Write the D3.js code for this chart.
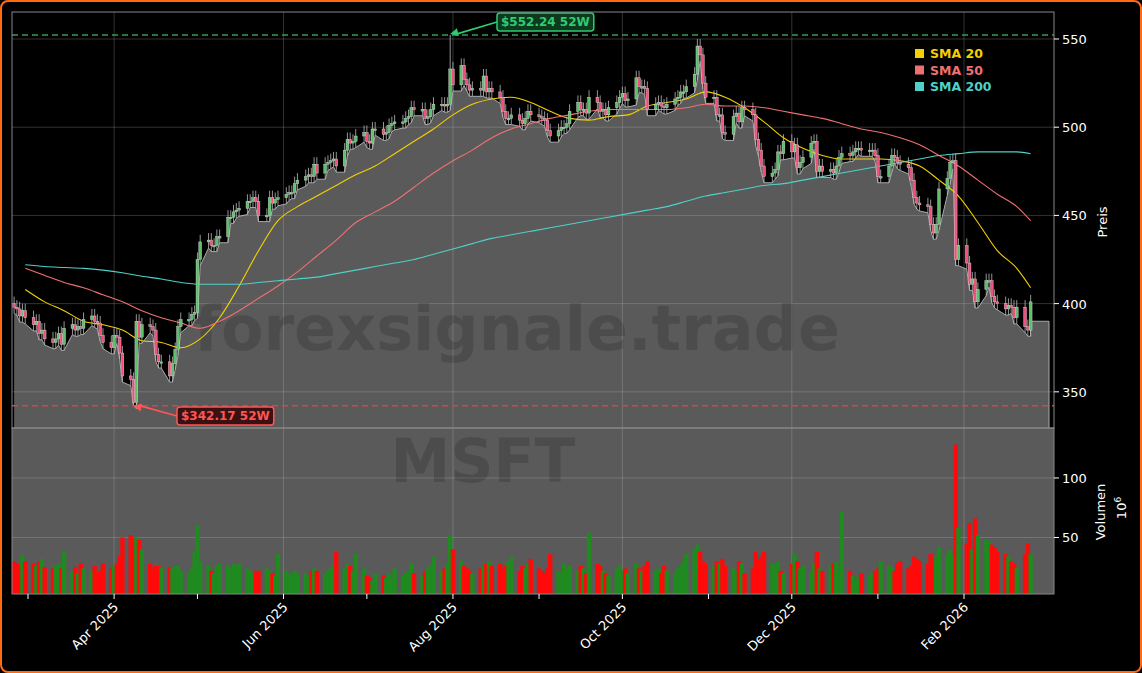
<!DOCTYPE html>
<html><head><meta charset="utf-8">
<script src="https://cdn.jsdelivr.net/npm/d3@7"></script>
<style>body{margin:0;background:#000}svg{display:block;font-family:"DejaVu Sans",sans-serif}</style>
</head><body><svg id="c" width="1142" height="673"></svg>
<script>
const startMonday = "2025-02-24";
const closesByWeek = [
[398,397,393,396,392],[388,390,383,385,380],[378,380,383,377,386],[388,385,387,386,391],
[393,390,389,382,378],[375,382,381,372,359],[357,344,390,381,388],[387,385,371,367,367],
[359,366,374,387,391],[391,394,395,425,435],[436,433,433,438,438],[449,449,452,453,454],
[458,458,460,458,450],[450,460,457,459,460],[462,463,463,468,470],[472,473,472,479,474],
[479,480,481,482,478],[487,493,491,492,495],[497,492,491,499,499],[496,497,501,502,503],
[503,505,506,511,510],[510,505,506,510,513],[513,512,513,533,524],[535,527,524,521,522],
[521,529,520,522,520],[517,509,505,505,507],[504,502,505,509,507],[506,505,504,498,495],
[498,500,500,502,509],[514,510,510,508,517],[514,509,510,507,511],[514,517,519,515,516],
[528,523,523,522,510],[513,514,512,511,513],[516,517,520,520,523],[530,546,541,525,517],
[517,507,507,497,496],[506,508,503,511,510],[507,493,487,478,472],[474,476,486,485,492],
[486,490,477,480,483],[491,492,475,478,475],[476,474,478,483,485],[484,486,488,488,487],
[487,487,484,472,472],[478,484,483,480,479],[477,470,460,457,456],[455,445,440,445,465],
[471,480,481,425,433],[423,411,414,401,408],[413,413,404,401,400],[397,399,398,392,398],
[387,385,401]];
const volumeByWeek = [
[30,28,25,35,30],[28,26,30,32,25],[24,26,28,24,38],[22,25,20,28,24],[22,26,20,22,28],
[24,26,28,35,50],[52,50,50,48,40],[28,24,26,26,25],[25,24,26,26,22],[20,24,38,60,30],
[26,22,20,26,28],[26,24,28,26,28],[24,22,20,22,22],[24,22,20,18,36],[22,20,18,22,20],
[20,18,22,24,22],[20,22,24,26,38],[24,28,26,22,36],[24,18,16,14,20],[18,16,20,16,24],
[18,20,22,28,20],[18,22,24,26,34],[22,24,28,52,40],[30,26,24,22,20],[24,26,28,30,26],
[28,24,26,30,34],[22,26,24,28,32],[24,22,20,24,36],[22,20,28,24,26],[22,26,24,20,54],
[28,26,22,20,18],[24,26,22,24,20],[28,24,22,26,30],[22,24,20,26,22],[20,24,26,30,36],
[40,44,38,30,28],[26,30,28,32,26],[24,22,30,28,20],[24,38,32,34,38],[28,26,30,22,20],
[28,36,30,24,26],[22,28,38,24,22],[26,28,30,24,72],[22,18,14,16,20],[18,20,22,24,30],
[26,24,22,28,30],[24,26,34,32,30],[28,36,32,34,42],[36,40,35,128,58],[45,62,40,66,52],
[48,46,44,42,38],[36,34,30,28,24],[36,45,36]];
// weekly samples (Fridays) of moving averages
const sma20 = [408,401,396,390,388,385,379,378,375,380,392,410,430,447,455,461,467,473,478,485,492,499,507,513,516,517,514,509,505,504,506,507,512,514,516,520,517,511,503,494,488,484,482,482,482,481,478,470,461,446,430,420,409];
const sma50 = [420,416,412,409,405,401,396,392,389,386,390,396,403,410,418,427,436,446,452,458,466,474,481,487,494,499,502,505,507,509,510,510,510,510,511,513,512,512,511,509,507,505,502,499,497,494,490,484,478,470,462,455,447];
const sma200 = [422,421,420.5,420,419,417.5,415.5,414,412,411,411,411,412,413,414,415,417,419,421,423,425,428,431,434,437,439,441,443,445,447,449,451,453,455,458,461,463,465,467,468,470,472,474,476,478,480,482,484,485,486,486,486,485];
const priceTicks = [350,400,450,500,550];
const volTicks = [50,100];
const low52 = 342.17, high52 = 552.24;
const legendNames = ["SMA 20","SMA 50","SMA 200"];

const parse = d3.timeParse("%Y-%m-%d");
const mon = parse(startMonday);
const data = [];
closesByWeek.forEach((wk,wi)=>wk.forEach((c,di)=>{
  data.push({date:d3.timeDay.offset(mon, wi*7+di), close:c, vol:volumeByWeek[wi][di]});
}));
data.forEach((d,i)=>{d.open = i? data[i-1].close : d.close+2;
  d.high=Math.max(d.open,d.close)+4; d.low=Math.min(d.open,d.close)-3.5;});
data[data.findIndex(d=>d.close===344)].low = low52;
data[data.findIndex(d=>d.close===533)].high = high52;
data[data.findIndex(d=>d.close===546)].high = 550;
const fridays = closesByWeek.map((wk,wi)=>d3.timeDay.offset(mon, wi*7+Math.min(4,wk.length-1)));

const svg = d3.select("#c");
const L=12,R=1054,T=12,M=428,B=594;
svg.append("rect").attr("x",1).attr("y",1).attr("width",1140).attr("height",671).attr("rx",7)
  .attr("fill","#000").attr("stroke","#ff6a13").attr("stroke-width",2);
const x = d3.scaleTime().domain([new Date(2025,2,1),new Date(2026,1,1)]).range([28,964]);
const y = d3.scaleLinear().domain([329.5,565.3]).range([M,T]);
const yv = d3.scaleLinear().domain([2.5,142]).range([B,M]);

svg.append("rect").attr("x",L).attr("y",M).attr("width",R-L).attr("height",B-M).attr("fill","#5a5a5a");
const areaPts = data.concat([{date:x.invert(1030), close:390, low:390},{date:x.invert(1049), close:390, low:390}]);
svg.append("path").attr("fill","#5a5a5a")
  .attr("d",d3.area().x(d=>x(d.date)).y0(M).y1(d=>y(d.low))(areaPts));
svg.append("path").attr("fill","none").attr("stroke","#aaa").attr("stroke-width",1)
  .attr("d",d3.line().x(d=>x(d.date)).y(d=>y(d.low))(areaPts)+`L1049,${M}`);
const monthTicks = d3.timeMonth.range(new Date(2025,2,1),new Date(2026,2,1));
const g = svg.append("g").attr("stroke","rgba(200,200,200,0.25)").attr("stroke-width",1);
monthTicks.filter(d=>d.getMonth()%2===1).forEach(d=>{
  g.append("line").attr("x1",x(d)).attr("x2",x(d)).attr("y1",T).attr("y2",B);});
priceTicks.forEach(t=>g.append("line").attr("x1",L).attr("x2",R).attr("y1",y(t)).attr("y2",y(t)));
volTicks.forEach(t=>g.append("line").attr("x1",L).attr("x2",R).attr("y1",yv(t)).attr("y2",yv(t)));
svg.append("text").attr("x",517).attr("y",350).attr("text-anchor","middle").attr("font-size",62)
  .attr("font-weight","bold").attr("fill","rgba(0,0,0,0.15)").text("forexsignale.trade");
svg.append("text").attr("x",483).attr("y",482).attr("text-anchor","middle").attr("font-size",60)
  .attr("font-weight","bold").attr("fill","rgba(0,0,0,0.15)").text("MSFT");
svg.append("g").selectAll("rect").data(data).join("rect")
  .attr("x",d=>x(d.date)-2.2).attr("width",4.4).attr("y",d=>yv(d.vol)).attr("height",d=>B-yv(d.vol))
  .attr("fill",d=>d.close>=d.open?"#1f8a1f":"#ff0a0a");
const smaCols=["#f5d000","#f07070","#4fd0c8"];
[sma20,sma50,sma200].forEach((s,i)=>{
  svg.append("path").attr("fill","none").attr("stroke",smaCols[i]).attr("stroke-width",1.1)
   .attr("d",d3.line().curve(d3.curveMonotoneX).x((v,j)=>x(fridays[j])).y(v=>y(v))(s));
});
const cg = svg.append("g");
data.forEach(d=>{
  const up=d.close>=d.open, col=up?"#5cbf6a":"#f0507a";
  cg.append("line").attr("x1",x(d.date)).attr("x2",x(d.date)).attr("y1",y(d.high)).attr("y2",y(d.low))
    .attr("stroke","#bbb").attr("stroke-width",0.8);
  const top=y(Math.max(d.open,d.close)), h=Math.max(1.5,Math.abs(y(d.open)-y(d.close)));
  cg.append("rect").attr("x",x(d.date)-1.4).attr("width",2.8).attr("y",top).attr("height",h)
    .attr("fill",col).attr("stroke","#ddd").attr("stroke-width",0.4);
});
svg.append("line").attr("x1",L).attr("x2",R).attr("y1",y(high52)).attr("y2",y(high52))
  .attr("stroke","#3a9a55").attr("stroke-width",1.5).attr("stroke-dasharray","6,4");
svg.append("line").attr("x1",L).attr("x2",R).attr("y1",y(low52)).attr("y2",y(low52))
  .attr("stroke","#d04848").attr("stroke-width",1.5).attr("stroke-dasharray","6,4");
const hd=data.find(d=>d.high===high52), ld=data.find(d=>d.low===low52);
function label(px,py,bx,by,txt,col,bg){
  svg.append("line").attr("x1",bx).attr("y1",by).attr("x2",px+6).attr("y2",py).attr("stroke",col).attr("stroke-width",1.8);
  svg.append("path").attr("d",`M${px},${py} l8,-4 l0,8 z`).attr("fill",col)
    .attr("transform",`rotate(${Math.atan2(by-py,bx-px)*180/Math.PI},${px},${py})`);
  const t=svg.append("text").attr("x",bx+4).attr("y",by+4).attr("font-size",12).attr("font-weight","bold")
    .attr("fill",col).text(txt);
  const w=t.node().getComputedTextLength();
  svg.insert("rect","text:last-of-type").attr("x",bx).attr("y",by-9).attr("width",w+8).attr("height",18)
    .attr("rx",3).attr("fill",bg).attr("stroke",col).attr("stroke-width",1.5);
  t.raise();
}
label(x(hd.date),y(high52)-1,497,22,"$552.24 52W","#2ecc71","#0d3a1e");
label(x(ld.date),y(low52),177,416,"$342.17 52W","#ff5555","#3a1111");
svg.append("rect").attr("x",L).attr("y",T).attr("width",R-L).attr("height",M-T).attr("fill","none").attr("stroke","#888");
svg.append("rect").attr("x",L).attr("y",M).attr("width",R-L).attr("height",B-M).attr("fill","none").attr("stroke","#888");
const ax = svg.append("g").attr("fill","#fff").attr("font-size",13);
priceTicks.forEach(t=>{
  ax.append("line").attr("x1",R).attr("x2",R+5).attr("y1",y(t)).attr("y2",y(t)).attr("stroke","#fff");
  ax.append("text").attr("x",R+8).attr("y",y(t)+5).text(t);});
volTicks.forEach(t=>{
  ax.append("line").attr("x1",R).attr("x2",R+5).attr("y1",yv(t)).attr("y2",yv(t)).attr("stroke","#fff");
  ax.append("text").attr("x",R+8).attr("y",yv(t)+5).text(t);});
monthTicks.forEach(d=>{
  ax.append("line").attr("x1",x(d)).attr("x2",x(d)).attr("y1",B).attr("y2",B+5).attr("stroke","#fff");
  if(d.getMonth()%2===1) ax.append("text").attr("text-anchor","end")
    .attr("transform",`translate(${x(d)+5},${B+14}) rotate(-45)`).text(d3.timeFormat("%b %Y")(d));
});
ax.append("text").attr("transform","translate(1107,222) rotate(-90)").attr("text-anchor","middle").text("Preis");
ax.append("text").attr("transform","translate(1105,512) rotate(-90)").attr("text-anchor","middle").text("Volumen");
const e=ax.append("text").attr("transform","translate(1126,508) rotate(-90)").attr("text-anchor","middle");
e.append("tspan").text("10"); e.append("tspan").attr("dy",-5).attr("font-size",9).text("6");
legendNames.forEach((n,i)=>{
  svg.append("rect").attr("x",915).attr("y",49+i*16.5).attr("width",9).attr("height",9).attr("fill",smaCols[i]);
  svg.append("text").attr("x",930).attr("y",58+i*16.5).attr("font-size",12.5).attr("font-weight","bold")
    .attr("fill",smaCols[i]).text(n);
});
</script></body></html>
